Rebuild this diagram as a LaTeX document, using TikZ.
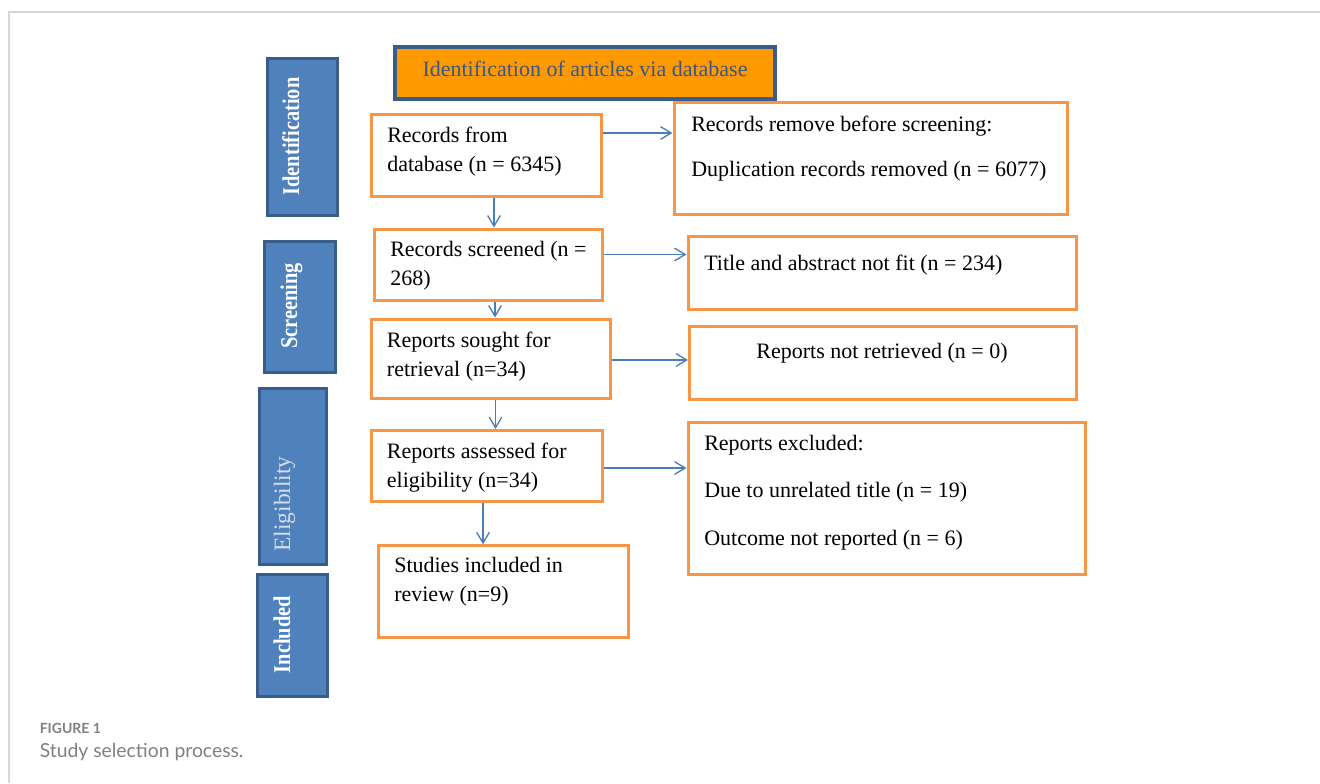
\documentclass[tikz,border=0pt]{standalone}
\usepackage{fontspec}
\setmainfont{Liberation Serif}
\newfontfamily\capfont{Lato}
\usetikzlibrary{arrows.meta,positioning}

\definecolor{boxorange}{RGB}{247,150,70}
\definecolor{headorange}{RGB}{255,153,0}
\definecolor{barblue}{RGB}{79,129,189}
\definecolor{bardark}{RGB}{56,93,138}
\definecolor{headtext}{RGB}{56,87,135}
\definecolor{arrblue}{RGB}{74,126,187}
\definecolor{framegray}{RGB}{214,214,214}
\definecolor{capgray}{RGB}{128,128,128}
\definecolor{eligtext}{RGB}{214,222,235}

\tikzset{
  recbox/.style={draw=boxorange, line width=2.25pt, fill=white, inner sep=0pt},
  sidebar/.style={draw=bardark, line width=2.25pt, fill=barblue, inner sep=0pt},
  headbox/.style={draw=bardark, line width=2.6pt, fill=headorange, inner sep=0pt},
  txt/.style={inner sep=0pt, align=left, anchor=base west,
              font=\fontsize{16.5}{21.75}\selectfont},
  sidetxt/.style={inner sep=0pt, rotate=90, xscale=0.85, anchor=base, text=white,
                  font=\fontsize{18}{18}\selectfont\bfseries},
  arr/.style={draw=arrblue, line width=1pt,
              arrows={-Straight Barb[length=8pt,width=9.5pt]}},
}

\begin{document}
\begin{tikzpicture}[x=0.75pt, y=-0.75pt]
  \useasboundingbox (0,0) rectangle (1320,783);

  % Frame lines
  \draw[framegray, line width=1.1pt] (1320,12) -- (9,12) -- (9,783);

  % Stage bars on the left
  \node(ident)[sidebar, minimum width=52.5pt, minimum height=117.75pt] at (302,136.5) {};
  \node(screen)[sidebar, minimum width=53.25pt, minimum height=98.25pt] at (299.5,307) {};
  \node(elig)[sidebar, minimum width=50.25pt, minimum height=132pt] at (292.5,476) {};
  \node(incl)[sidebar, minimum width=52.5pt, minimum height=91.5pt] at (292,635) {};

  \node(identtxt)[sidetxt] at (299,136.5) {Identification};
  \node(screentxt)[sidetxt] at (297,306) {Screening};
  \node(eligtxt)[inner sep=0pt, rotate=90, anchor=base, text=eligtext,
                 font=\fontsize{17.6}{17.6}\selectfont] at (290,504) {Eligibility};
  \node(incltxt)[sidetxt] at (290,634.5) {Included};

  % Header
  \node(head)[headbox, minimum width=285pt, minimum height=39pt] at (585,73) {};
  \node(headtxt)[inner sep=0pt, anchor=base, text=headtext,
                 font=\fontsize{16.5}{21.75}\selectfont] at (585,76) {Identification of articles via database};

  % Main column
  \node(b1)[recbox, minimum width=172.5pt, minimum height=61.5pt] at (486,155) {};
  \node(b2)[recbox, minimum width=171pt, minimum height=53.25pt] at (488,264.5) {};
  \node(b3)[recbox, minimum width=179.25pt, minimum height=59.25pt] at (490.5,358.5) {};
  \node(b4)[recbox, minimum width=173.25pt, minimum height=53.25pt] at (486.5,466) {};
  \node(b5)[recbox, minimum width=187.5pt, minimum height=68.6pt] at (503,591.5) {};

  % (base of a multi-line text is its last line)
  \node(t1)[txt] at (387,171.7) {Records from\\database (n = 6345)};
  \node(t2)[txt] at (390,285) {Records screened (n =\\268)};
  \node(t3)[txt] at (386.7,376.7) {Reports sought for\\retrieval (n=34)};
  \node(t4)[txt] at (386.7,487) {Reports assessed for\\eligibility (n=34)};
  \node(t5)[txt] at (394,601.7) {Studies included in\\review (n=9)};

  % Excluded column
  \node(r1)[recbox, minimum width=294.75pt, minimum height=84pt] at (870.5,158) {};
  \node(r2)[recbox, minimum width=291pt, minimum height=54.4pt] at (882,272.75) {};
  \node(r3)[recbox, minimum width=289.9pt, minimum height=54.4pt] at (882.75,362.75) {};
  \node(r4)[recbox, minimum width=297.75pt, minimum height=114pt] at (886.5,498) {};

  \node(s1)[txt] at (691,176) {Records remove before screening:\\[11.5pt]Duplication records removed (n = 6077)};
  \node(s2)[txt] at (704,270) {Title and abstract not fit (n = 234)};
  \node(s3)[txt, anchor=base] at (882,358) {Reports not retrieved (n = 0)};
  \node(s4)[txt] at (704,545) {Reports excluded:\\[13.6pt]Due to unrelated title (n = 19)\\[13.6pt]Outcome not reported (n = 6)};

  % Arrows
  \draw[arr] ([yshift=16.5pt]b1.east) -- ([yshift=16.5pt]b1.east -| r1.west);
  \draw[arr] ([yshift=7.5pt]b2.east) -- ([yshift=7.5pt]b2.east -| r2.west);
  \draw[arr] ([yshift=-1.1pt]b3.east) -- ([yshift=-1.1pt]b3.east -| r3.west);
  \draw[arr] ([yshift=-1.5pt]b4.east) -- ([yshift=-1.5pt]b4.east -| r4.west);

  \draw[arr] ([xshift=6pt]b1.south) -- ([xshift=6pt]b1.south |- b2.north);
  \draw[arr] ([xshift=5.25pt]b2.south) -- ([xshift=5.25pt]b2.south |- b3.north);
  \draw[arr] ([xshift=3.75pt]b3.south) -- ([xshift=3.75pt]b3.south |- b4.north);
  \draw[arr] ([xshift=-2.6pt]b4.south) -- ([xshift=-2.6pt]b4.south |- b5.north);

  % Caption
  \node(figno)[inner sep=0pt, anchor=base west, text=capgray,
               font=\capfont\bfseries\fontsize{10.5}{12}\selectfont] at (39.5,733) {FIGURE 1};
  \node(figcap)[inner sep=0pt, anchor=base west, text=capgray,
                font=\capfont\fontsize{14.5}{17}\selectfont] at (39.5,757.5) {Study selection process.};
\end{tikzpicture}
\end{document}
